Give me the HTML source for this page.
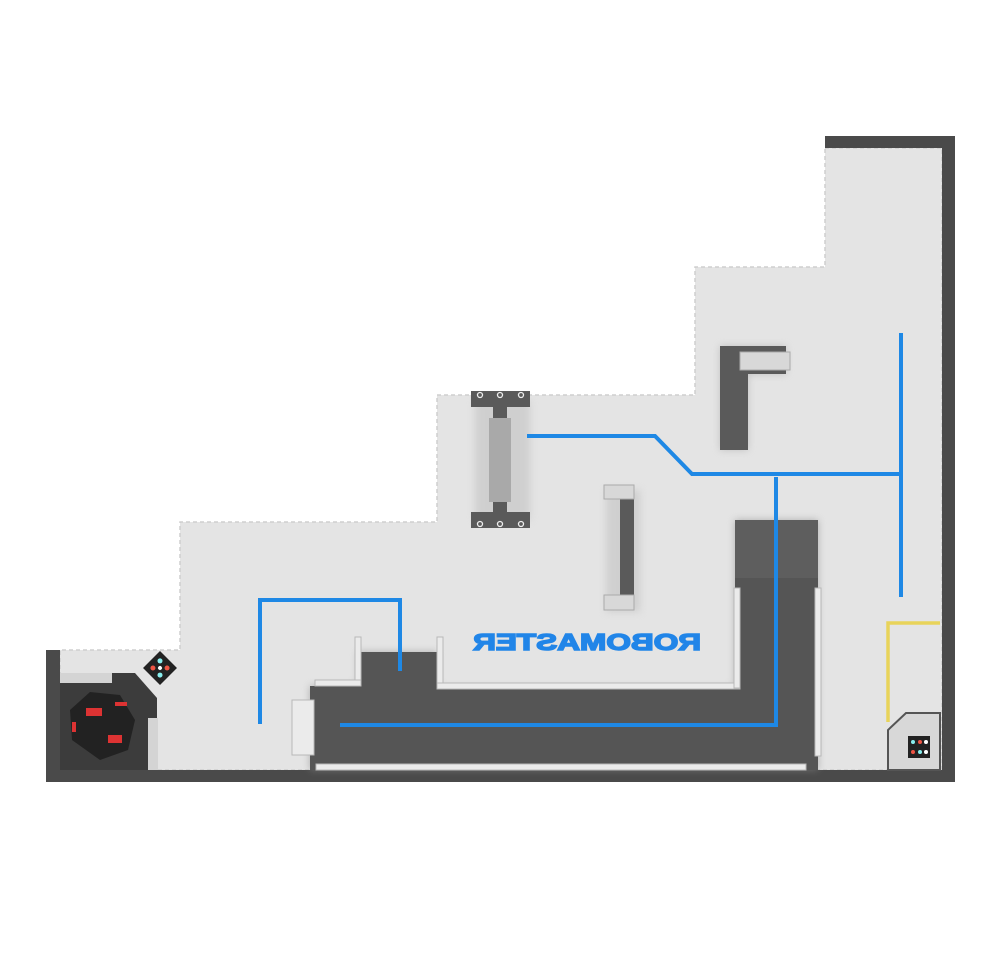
<!DOCTYPE html>
<html><head><meta charset="utf-8"><style>
html,body{margin:0;padding:0;background:#fff;width:1000px;height:957px;overflow:hidden}
</style></head><body>
<svg width="1000" height="957" viewBox="0 0 1000 957" xmlns="http://www.w3.org/2000/svg">
<defs>
<filter id="sh" x="-20%" y="-20%" width="140%" height="140%"><feGaussianBlur stdDeviation="4"/></filter>
</defs>
<path d="M825,148 H942 V770 H60 V650 H180 V522 H437 V395 H695 V267 H825 Z" fill="#e4e4e4" stroke="#cfcfcf" stroke-width="1.5" stroke-dasharray="4 3"/>
<rect x="825" y="136" width="130" height="12" fill="#4a4a4a"/>
<rect x="942" y="136" width="13" height="646" fill="#4a4a4a"/>
<rect x="46" y="650" width="14" height="132" fill="#4a4a4a"/>
<rect x="46" y="770" width="909" height="12" fill="#4a4a4a"/>
<path d="M310,686 H358 V652 H437 V688 H735 V520 H818 V770 H310 Z" fill="#888" opacity="0.6" filter="url(#sh)"/>
<path d="M310,686 H358 V652 H437 V688 H735 V520 H818 V770 H310 Z" fill="#555"/>
<rect x="735" y="520" width="83" height="58" fill="#5e5e5e"/>
<g fill="#ebebeb" stroke="#b8b8b8" stroke-width="1">
<rect x="355" y="637" width="6" height="49"/>
<rect x="315" y="680" width="46" height="6"/>
<rect x="437" y="637" width="6" height="51"/>
<rect x="437" y="683" width="303" height="6"/>
<rect x="734" y="588" width="6" height="100"/>
<rect x="815" y="588" width="6" height="168"/>
<rect x="292" y="700" width="22" height="55"/>
<rect x="316" y="764" width="490" height="6"/>
</g>
<text transform="translate(1174,0) scale(-1,1)" x="587" y="650" text-anchor="middle" style="font-family:'Liberation Sans',sans-serif;font-weight:bold;font-size:23px" fill="#2185e8" stroke="#2185e8" stroke-width="1.5" textLength="228" lengthAdjust="spacingAndGlyphs">ROBOMASTER</text>
<rect x="475" y="400" width="55" height="120" fill="#bbb" opacity="0.5" filter="url(#sh)"/>
<rect x="471" y="391" width="59" height="16" fill="#5a5a5a"/>
<rect x="471" y="512" width="59" height="16" fill="#5a5a5a"/>
<rect x="493" y="405" width="14" height="14" fill="#5a5a5a"/>
<rect x="493" y="500" width="14" height="14" fill="#5a5a5a"/>
<rect x="489" y="418" width="22" height="84" fill="#a9a9a9"/>
<g fill="none" stroke="#eee" stroke-width="1.3">
<circle cx="480" cy="395" r="2.5"/><circle cx="500" cy="395" r="2.5"/><circle cx="521" cy="395" r="2.5"/>
<circle cx="480" cy="524" r="2.5"/><circle cx="500" cy="524" r="2.5"/><circle cx="521" cy="524" r="2.5"/>
</g>
<rect x="606" y="490" width="34" height="122" fill="#bbb" opacity="0.5" filter="url(#sh)"/>
<rect x="620" y="487" width="14" height="120" fill="#5a5a5a"/>
<rect x="604" y="485" width="30" height="14" fill="#d8d8d8" stroke="#aaa" stroke-width="1"/>
<rect x="604" y="595" width="30" height="15" fill="#d8d8d8" stroke="#aaa" stroke-width="1"/>
<path d="M720,346 H786 V374 H748 V450 H720 Z" fill="#aaa" opacity="0.6" filter="url(#sh)"/>
<rect x="720" y="346" width="28" height="104" fill="#5a5a5a"/>
<rect x="720" y="346" width="66" height="28" fill="#5a5a5a"/>
<rect x="740" y="352" width="50" height="18" fill="#d8d8d8" stroke="#aaa" stroke-width="1"/>
<g fill="none" stroke="#1e88e5" stroke-width="4" stroke-linejoin="miter">
<path d="M260,724 V600 H400 V671"/>
<path d="M340,725 H776 V477"/>
<path d="M527,436 H655 L692,474 H901"/>
<path d="M901,333 V597"/>
</g>
<path d="M888,722 V623 H940" fill="none" stroke="#e8d35a" stroke-width="3.5"/>
<path d="M60,673 H135 L157,698 V770 H60 Z" fill="#3c3c3c"/>
<rect x="60" y="673" width="52" height="10" fill="#d4d4d4"/>
<rect x="148" y="718" width="10" height="52" fill="#d4d4d4"/>
<path d="M70,710 L90,692 L120,695 L135,720 L128,750 L100,760 L72,740 Z" fill="#222"/>
<rect x="86" y="708" width="16" height="8" fill="#d33"/>
<rect x="108" y="735" width="14" height="8" fill="#d33"/>
<rect x="72" y="722" width="4" height="10" fill="#d33"/>
<rect x="115" y="702" width="12" height="4" fill="#d33"/>
<g transform="translate(160,668) rotate(45)">
<rect x="-12" y="-12" width="24" height="24" fill="#222"/>
<circle cx="-5" cy="-5" r="2.5" fill="#8ee"/><circle cx="5" cy="-5" r="2.5" fill="#e54"/>
<circle cx="-5" cy="5" r="2.5" fill="#e54"/><circle cx="5" cy="5" r="2.5" fill="#8ee"/>
<circle cx="0" cy="0" r="2" fill="#fff"/>
</g>
<path d="M906,713 H940 V770 H888 V730 Z" fill="#d8d8d8" stroke="#555" stroke-width="2"/>
<rect x="908" y="736" width="22" height="22" fill="#222"/>
<circle cx="913" cy="742" r="2" fill="#8ee"/><circle cx="920" cy="742" r="2" fill="#e54"/><circle cx="926" cy="742" r="2" fill="#fff"/>
<circle cx="913" cy="752" r="2" fill="#e54"/><circle cx="920" cy="752" r="2" fill="#8ee"/><circle cx="926" cy="752" r="2" fill="#fff"/>
</svg>
</body></html>
